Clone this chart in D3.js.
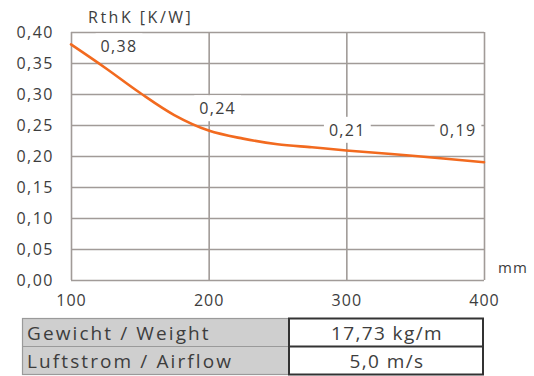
<!DOCTYPE html>
<html>
<head>
<meta charset="utf-8">
<script src="https://cdn.jsdelivr.net/npm/d3@7/dist/d3.min.js"></script>
<style>
  html, body { margin: 0; padding: 0; background: #fff; }
  svg { display: block; }
  text { font-family: "Open Sans", "DejaVu Sans", sans-serif; fill: #3d3d3d; }
</style>
</head>
<body>
<svg id="chart" width="534" height="376"></svg>
<script>
// ---- data ----
const lengthsMm = [100, 125, 150, 175, 200, 225, 250, 275, 300, 350, 400];
const rthValues = [0.38, 0.342, 0.302, 0.266, 0.241, 0.228, 0.219, 0.214, 0.209, 0.200, 0.19];
const labelLengths = [100, 200, 300, 400];
const labelValues = [0.38, 0.24, 0.21, 0.19];
const labelTexts = ["0,38", "0,24", "0,21", "0,19"];
const xTicks = [100, 200, 300, 400];
const yTicks = [0, 0.05, 0.10, 0.15, 0.20, 0.25, 0.30, 0.35, 0.40];
const yTickLabels = ["0,00", "0,05", "0,10", "0,15", "0,20", "0,25", "0,30", "0,35", "0,40"];
const yTitle = "RthK [K/W]";
const xUnit = "mm";
const tableRows = ["Gewicht / Weight", "Luftstrom / Airflow"];
const tableValues = ["17,73 kg/m", "5,0 m/s"];

// ---- layout ----
const svg = d3.select("#chart");
const x = d3.scaleLinear().domain([100, 400]).range([71, 484]);
const y = d3.scaleLinear().domain([0, 0.40]).range([280, 32]);
const gridColor = "#a19b98";
const textColor = "#404040";

// grid (via axes)
const gy = svg.append("g")
  .attr("transform", `translate(${x.range()[0]},0)`)
  .call(d3.axisLeft(y).tickValues(yTicks)
    .tickSize(-(x.range()[1] - x.range()[0]))
    .tickFormat((d, i) => yTickLabels[i]).tickPadding(17));
gy.select(".domain").remove();
gy.selectAll(".tick line").attr("stroke", gridColor).attr("stroke-width", 1.6);
gy.selectAll(".tick text").attr("font-size", 16).attr("fill", textColor)
  .attr("font-family", "'Open Sans', sans-serif").style("letter-spacing", "1.5px");

const gx = svg.append("g")
  .attr("transform", `translate(0,${y.range()[0]})`)
  .call(d3.axisBottom(x).tickValues(xTicks)
    .tickSize(-(y.range()[0] - y.range()[1]))
    .tickFormat(d3.format("d")).tickPadding(15));
gx.select(".domain").remove();
gx.selectAll(".tick line").attr("stroke", gridColor).attr("stroke-width", 1.6);
gx.selectAll(".tick text").attr("font-size", 16).attr("fill", textColor)
  .attr("font-family", "'Open Sans', sans-serif").style("letter-spacing", "1px");

// axis titles
svg.append("text").attr("x", 88).attr("y", 23).attr("font-size", 16)
  .attr("fill", textColor).style("letter-spacing", "2.5px").text(yTitle);
svg.append("text").attr("x", 498).attr("y", 273).attr("font-size", 15)
  .attr("fill", textColor).style("letter-spacing", "1.2px").text(xUnit);

// data labels with white background
const labelOffsets = [[48, 8], [9, -17], [1, -14], [-26, -26]];
const lblG = svg.append("g");
labelTexts.forEach((t, i) => {
  const cx = x(labelLengths[i]) + labelOffsets[i][0];
  const by = y(labelValues[i]) + labelOffsets[i][1];
  const g = lblG.append("g");
  const rect = g.append("rect").attr("fill", "#fff");
  const txt = g.append("text").attr("x", cx).attr("y", by)
    .attr("text-anchor", "middle").attr("font-size", 16).attr("fill", textColor)
    .style("letter-spacing", "1.3px").text(t);
  const bb = txt.node().getBBox();
  rect.attr("x", bb.x - 5).attr("y", bb.y - 2).attr("width", bb.width + 10).attr("height", bb.height + 4);
});

// curve
const line = d3.line()
  .x((d, i) => x(lengthsMm[i]))
  .y(d => y(d))
  .curve(d3.curveCatmullRom.alpha(0.5));
svg.append("path").datum(rthValues)
  .attr("d", line)
  .attr("fill", "none")
  .attr("stroke", "#f26a1f")
  .attr("stroke-width", 2.6)
  .attr("stroke-linecap", "round");

// table
const rowY = d3.scaleBand().domain(d3.range(tableRows.length)).range([318.5, 374.5]);
const leftX0 = 22.5, leftX1 = 289, rightX1 = 483;
const tg = svg.append("g");
tg.append("rect").attr("x", leftX0).attr("y", rowY.range()[0])
  .attr("width", leftX1 - leftX0).attr("height", rowY.range()[1] - rowY.range()[0])
  .attr("fill", "#cfcfcf").attr("stroke", "#9a9a9a").attr("stroke-width", 1.2);
tg.append("line").attr("x1", leftX0).attr("x2", leftX1)
  .attr("y1", rowY(1)).attr("y2", rowY(1)).attr("stroke", "#9a9a9a").attr("stroke-width", 1.2);
tg.append("rect").attr("x", leftX1).attr("y", rowY.range()[0])
  .attr("width", rightX1 - leftX1).attr("height", rowY.range()[1] - rowY.range()[0])
  .attr("fill", "#fff").attr("stroke", "#333").attr("stroke-width", 2);
tg.append("line").attr("x1", leftX1).attr("x2", rightX1)
  .attr("y1", rowY(1)).attr("y2", rowY(1)).attr("stroke", "#333").attr("stroke-width", 2);

tableRows.forEach((r, i) => {
  tg.append("text").attr("x", 27).attr("y", rowY(i) + rowY.bandwidth() / 2 + 7)
    .attr("font-size", 19).attr("fill", "#262626").style("letter-spacing", "2.1px").text(r);
  tg.append("text").attr("x", (leftX1 + rightX1) / 2 + 1).attr("y", rowY(i) + rowY.bandwidth() / 2 + 7)
    .attr("text-anchor", "middle").attr("font-size", 19).attr("fill", "#262626")
    .style("letter-spacing", "1.4px").text(tableValues[i]);
});
</script>
</body>
</html>
